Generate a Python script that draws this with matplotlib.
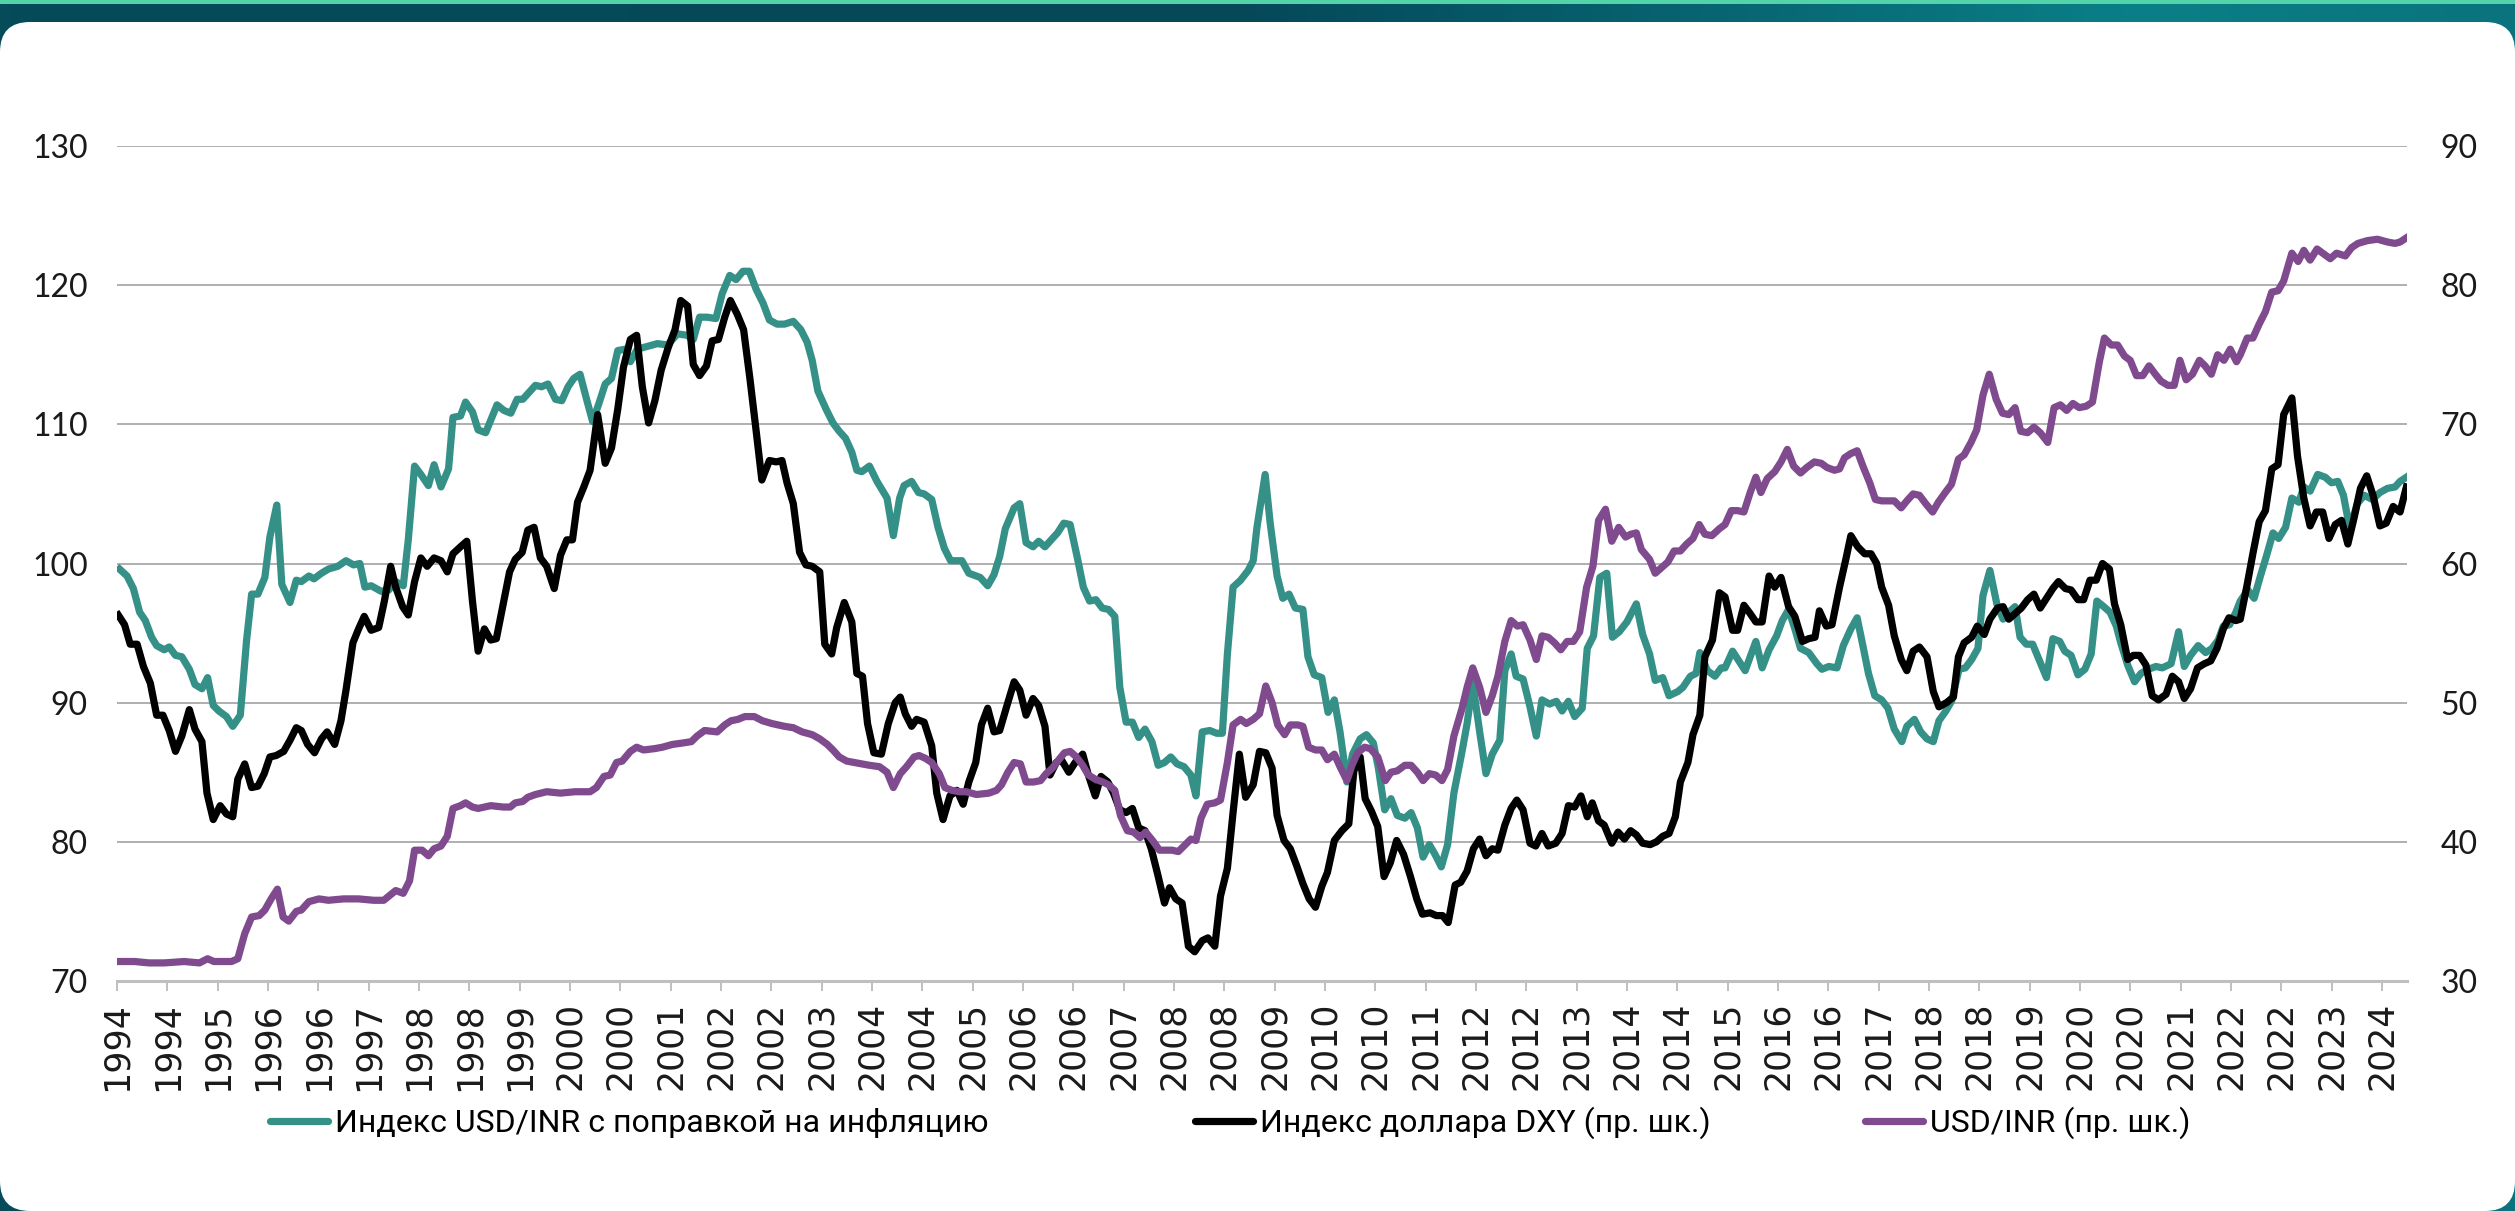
import matplotlib
matplotlib.use("Agg")
import matplotlib.pyplot as plt
import numpy as np
from matplotlib.colors import LinearSegmentedColormap
from matplotlib.lines import Line2D
from matplotlib.patches import FancyBboxPatch

# months counted from Jan 1994
teal_months = [
    0.4, 1.6, 2.6, 3.6, 4.5, 5.5, 6.3, 7.5, 8.3, 9.3, 10.3, 11.5, 12.4, 13.5, 14.4, 15.3, 16.2, 17.4, 18.4, 19.6,
    20.6, 21.4, 22.4, 23.5, 24.3, 25.4, 26.2, 27.5, 28.5, 29.3, 30.5, 31.3, 32.5, 33.6, 35.1, 36.4, 37.6, 38.6,
    39.4, 40.4, 42.0, 43.2, 44.3, 45.5, 46.3, 47.3, 48.3, 49.5, 50.4, 51.5, 52.7, 53.4, 54.6, 55.4, 56.5, 57.4,
    58.6, 60.4, 61.5, 62.6, 63.6, 64.5, 65.3, 66.5, 67.5, 68.5, 69.7, 70.7, 71.7, 72.6, 73.6, 74.7, 75.6, 76.6,
    77.6, 78.6, 79.6, 80.8, 81.6, 82.7, 84.3, 85.9, 87.5, 89.1, 90.6, 91.6, 92.6, 93.8, 95.2, 96.2, 97.4, 98.4,
    99.5, 100.5, 101.6, 102.7, 103.7, 104.9, 106.1, 107.5, 108.7, 109.7, 110.5, 111.4, 112.7, 113.8, 114.8,
    115.8, 116.8, 117.6, 118.4, 119.6, 120.8, 122.4, 123.4, 124.4, 125.1, 126.3, 127.4, 128.3, 129.5, 130.5,
    131.5, 132.5, 134.3, 135.4, 137.2, 138.4, 139.4, 140.3, 141.2, 142.6, 143.5, 144.5, 145.6, 146.5, 147.5,
    148.5, 149.5, 150.5, 151.5, 152.7, 153.6, 154.6, 155.6, 156.6, 157.6, 158.6, 159.4, 160.4, 161.4, 162.4,
    163.4, 164.5, 165.5, 166.5, 167.5, 168.5, 169.6, 170.7, 171.5, 172.5, 173.7, 174.8, 175.7, 176.5, 177.4,
    178.6, 179.8, 180.6, 181.2, 182.5, 183.3, 184.4, 185.3, 186.3, 187.3, 188.5, 189.3, 190.3, 191.5, 192.5,
    193.5, 194.4, 195.5, 196.4, 197.6, 198.6, 199.7, 200.5, 201.5, 202.5, 203.5, 204.7, 205.7, 206.7, 207.6,
    208.6, 209.5, 210.5, 211.5, 212.5, 213.8, 214.6, 215.5, 216.6, 217.6, 218.6, 219.8, 220.6, 221.6, 222.4,
    223.5, 224.6, 225.6, 226.5, 227.7, 228.8, 229.7, 230.7, 231.7, 232.9, 233.7, 234.7, 235.7, 236.8, 237.7,
    238.8, 240.0, 241.5, 242.5, 243.6, 244.5, 245.7, 246.7, 248.1, 248.9, 250.1, 251.0, 251.6, 252.8, 254.0,
    255.0, 255.6, 256.8, 257.8, 258.8, 259.6, 260.5, 261.5, 262.6, 263.8, 264.7, 265.7, 266.7, 267.6, 268.9,
    270.2, 271.0, 272.1, 273.4, 274.4, 275.6, 276.6, 277.6, 278.4, 279.4, 280.5, 281.5, 282.5, 283.7, 284.5,
    285.7, 286.7, 287.7, 288.7, 289.6, 290.7, 291.6, 292.8, 293.8, 294.8, 295.8, 296.6, 297.7, 298.8, 299.8,
    300.7, 301.7, 302.5, 303.5, 304.5, 305.5, 306.7, 307.7, 308.8, 309.6, 310.6, 311.7, 312.8, 313.8, 314.7,
    315.8, 316.8, 317.8, 318.5, 319.6, 320.7, 321.7, 322.9, 324.1, 325.1, 326.5, 327.7, 328.6, 329.6, 330.8,
    332.0, 333.0, 334.0, 334.8, 335.8, 336.8, 337.5, 338.7, 339.7, 340.7, 341.7, 342.7, 343.6, 344.7, 345.7,
    346.8, 347.6, 348.6, 349.8, 351.0, 352.0, 353.0, 353.9, 354.9, 356.1, 357.2, 358.5, 359.7, 360.9, 362.1,
    362.9, 363.9,
]
teal_values = [
    99.6, 99.1, 98.2, 96.5, 95.9, 94.7, 94.1, 93.8, 94.0, 93.4, 93.3, 92.4, 91.3, 91.0, 91.8, 89.8, 89.4, 89.0, 88.3, 89.1,
    94.5, 97.8, 97.8, 99.0, 101.9, 104.2, 98.5, 97.2, 98.8, 98.7, 99.1, 98.9, 99.3, 99.6, 99.8, 100.2, 99.9, 100.0,
    98.3, 98.4, 98.0, 98.1, 98.7, 98.4, 101.7, 107.0, 106.4, 105.6, 107.1, 105.5, 106.8, 110.5, 110.6, 111.6, 110.9, 109.6,
    109.4, 111.4, 111.0, 110.8, 111.8, 111.8, 112.2, 112.8, 112.7, 112.9, 111.8, 111.7, 112.7, 113.3, 113.6, 111.7, 110.2, 111.5,
    112.9, 113.3, 115.3, 115.4, 114.5, 115.4, 115.6, 115.8, 115.7, 116.5, 116.4, 116.1, 117.7, 117.7, 117.6, 119.4, 120.7, 120.4,
    121.0, 121.0, 119.7, 118.7, 117.5, 117.2, 117.2, 117.4, 116.8, 115.9, 114.6, 112.4, 111.1, 110.1, 109.5,
    109.0, 108.0, 106.7, 106.6, 107.0, 105.9, 104.7, 102.0, 104.7, 105.6, 105.9, 105.1, 105.0, 104.6, 102.6,
    101.1, 100.2, 100.2, 99.3, 99.0, 98.4, 99.2, 100.5, 102.5, 104.0, 104.3, 101.5, 101.2, 101.6, 101.2,
    101.7, 102.2, 102.9, 102.8, 100.3, 98.3, 97.3, 97.4, 96.8, 96.7, 96.2, 91.1, 88.6, 88.6, 87.5,
    88.1, 87.2, 85.5, 85.7, 86.1, 85.6, 85.4, 84.8, 83.3, 87.9, 88.0, 87.8, 87.8, 93.5, 98.3,
    98.8, 99.5, 100.2, 102.6, 106.4, 102.9, 99.1, 97.5, 97.8, 96.8, 96.7, 93.3, 92.0, 91.8, 89.3,
    90.2, 87.9, 84.3, 86.3, 87.4, 87.7, 87.1, 85.3, 82.3, 83.1, 81.9, 81.7, 82.1, 81.0, 78.9,
    79.8, 79.1, 78.2, 79.8, 83.5, 86.5, 88.5, 91.4, 87.9, 84.9, 86.3, 87.3, 92.3, 93.5, 91.9,
    91.7, 89.7, 87.6, 90.2, 89.9, 90.1, 89.4, 90.1, 89.0, 89.6, 93.9, 94.8, 99.0, 99.3, 94.7,
    95.1, 95.8, 97.1, 94.9, 93.5, 91.6, 91.8, 90.5, 90.8, 91.1, 91.9, 92.1, 93.6, 92.3, 91.9,
    92.5, 92.5, 93.7, 93.0, 92.3, 93.3, 94.4, 92.5, 93.8, 94.8, 95.9, 96.7, 95.3, 93.9, 93.6,
    92.8, 92.4, 92.6, 92.5, 94.1, 95.3, 96.1, 93.9, 92.1, 90.5, 90.2, 89.6, 88.1, 87.2, 88.3,
    88.8, 87.9, 87.4, 87.2, 88.7, 89.4, 90.1, 92.4, 92.5, 93.1, 93.9, 97.7, 99.5, 97.1, 96.0,
    96.5, 96.9, 94.7, 94.2, 94.2, 93.1, 91.8, 94.6, 94.4, 93.7, 93.4, 92.0, 92.4, 93.5, 97.3,
    96.9, 96.5, 95.5, 94.3, 92.7, 91.5, 92.1, 92.4, 92.6, 92.5, 92.8, 95.1, 92.6, 93.4, 94.1,
    93.6, 93.9, 94.5, 95.5, 95.6, 96.5, 97.3, 98.1, 97.5, 99.1, 100.6, 102.2, 101.8, 102.6, 104.7,
    104.4, 105.5, 105.2, 106.4, 106.2, 105.8, 105.9, 104.9, 102.5, 104.3, 104.9, 104.6, 105.1, 105.4, 105.5,
    105.9, 106.2,
]

dxy_months = [
    0.2, 1.2, 2.1, 3.2, 4.2, 5.3, 6.3, 7.3, 8.3, 9.3, 10.3, 11.5, 12.4, 13.5, 14.3, 15.3, 16.4, 17.4, 18.4, 19.2,
    20.3, 21.4, 22.4, 23.4, 24.3, 25.3, 26.5, 27.5, 28.5, 29.3, 30.3, 31.4, 32.5, 33.4, 34.6, 35.6, 36.4, 37.5,
    38.4, 39.3, 40.4, 41.6, 42.5, 43.5, 44.3, 45.4, 46.3, 47.3, 48.3, 49.3, 50.4, 51.5, 52.5, 53.4, 54.6, 55.6,
    56.5, 57.4, 58.4, 59.4, 60.3, 61.4, 62.4, 63.3, 64.4, 65.3, 66.3, 67.3, 68.3, 69.5, 70.5, 71.5, 72.4, 73.2,
    74.2, 75.2, 76.4, 77.6, 78.6, 79.6, 80.5, 81.6, 82.6, 83.5, 84.5, 85.5, 86.5, 87.6, 88.7, 89.6, 90.7, 91.6,
    92.6, 93.7, 94.6, 95.6, 96.6, 97.5, 98.6, 99.6, 100.6, 101.6, 102.5, 103.7, 104.8, 105.7, 106.5, 107.5,
    108.5, 109.5, 110.5, 111.7, 112.5, 113.6, 114.4, 115.6, 116.8, 117.6, 118.5, 119.3, 120.3, 121.5, 122.6,
    123.7, 124.5, 125.3, 126.3, 127.1, 128.3, 129.5, 130.3, 131.3, 132.4, 133.5, 134.5, 135.4, 136.5, 137.4,
    138.4, 139.4, 140.3, 141.4, 142.6, 143.5, 144.5, 145.6, 146.5, 147.5, 148.3, 149.3, 150.1, 151.3, 152.3,
    153.5, 154.4, 155.5, 156.4, 157.5, 158.4, 159.4, 160.4, 161.4, 162.4, 163.4, 164.4, 165.4, 166.5, 167.3,
    168.3, 169.3, 170.3, 171.3, 172.5, 173.4, 174.5, 175.4, 176.5, 177.4, 178.4, 179.4, 180.6, 181.6, 182.6,
    183.6, 184.4, 185.5, 186.5, 187.5, 188.5, 189.5, 190.5, 191.5, 192.4, 193.5, 194.7, 195.8, 196.6, 197.6,
    198.4, 199.4, 200.4, 201.4, 202.4, 203.4, 204.5, 205.6, 206.6, 207.5, 208.7, 209.7, 210.7, 211.6, 212.7,
    213.6, 214.6, 215.6, 216.6, 217.6, 218.6, 219.5, 220.6, 221.6, 222.5, 223.5, 224.6, 225.5, 226.5, 227.5,
    228.7, 229.7, 230.7, 231.7, 232.7, 233.7, 234.5, 235.5, 236.4, 237.6, 238.6, 239.6, 240.6, 241.5, 242.5,
    243.7, 244.7, 245.7, 246.7, 247.7, 248.5, 249.7, 250.5, 251.6, 252.4, 253.6, 254.7, 255.6, 256.8, 257.6,
    258.6, 259.6, 260.5, 261.5, 262.6, 263.5, 264.5, 265.7, 266.7, 267.9, 268.9, 269.9, 270.6, 271.7, 272.6,
    273.8, 274.8, 275.6, 276.7, 277.8, 278.8, 279.7, 280.5, 281.6, 282.5, 283.6, 284.5, 285.5, 286.5, 287.7,
    288.7, 289.6, 290.8, 291.9, 292.7, 293.6, 294.8, 295.7, 296.8, 297.7, 298.9, 299.8, 300.7, 301.7, 302.7,
    303.7, 304.7, 305.7, 306.7, 307.7, 308.6, 309.7, 310.6, 311.7, 312.6, 313.6, 314.6, 315.6, 316.7, 317.5,
    318.5, 319.6, 320.5, 321.5, 322.5, 323.5, 324.5, 325.7, 326.7, 327.7, 328.6, 329.6, 330.7, 331.8, 332.8,
    333.8, 334.8, 335.7, 336.8, 337.5, 338.6, 339.5, 340.5, 341.5, 342.5, 343.5, 344.4, 345.7, 346.6, 347.6,
    348.6, 349.6, 350.6, 351.6, 352.6, 353.6, 354.6, 355.6, 356.6, 357.6, 358.6, 359.7, 360.7, 361.8, 362.9,
    363.9,
]
dxy_values = [
    96.3, 95.6, 94.2, 94.2, 92.6, 91.4, 89.1, 89.1, 88.0, 86.5, 87.6, 89.5, 88.1, 87.2, 83.5, 81.6, 82.6, 82.0, 81.8, 84.5,
    85.6, 83.9, 84.0, 84.9, 86.1, 86.2, 86.5, 87.3, 88.2, 88.0, 87.0, 86.4, 87.4, 87.9, 87.0, 88.7, 90.9, 94.3,
    95.3, 96.2, 95.2, 95.4, 97.3, 99.8, 98.3, 96.9, 96.3, 98.7, 100.4, 99.8, 100.4, 100.2, 99.4, 100.7, 101.2, 101.6,
    97.3, 93.7, 95.3, 94.5, 94.6, 97.1, 99.4, 100.3, 100.8, 102.4, 102.6, 100.4, 99.8, 98.2, 100.6, 101.7, 101.7, 104.4,
    105.5, 106.7, 110.7, 107.2, 108.3, 111.1, 114.1, 116.1, 116.4, 112.7, 110.1, 111.7, 113.9, 115.5, 116.8, 118.9, 118.5, 114.3,
    113.5, 114.2, 116.0, 116.1, 117.7, 118.9, 117.9, 116.8, 113.3, 109.5, 106.0, 107.4, 107.3, 107.4, 105.8, 104.3,
    100.8, 99.9, 99.8, 99.4, 94.2, 93.5, 95.4, 97.2, 95.8, 92.1, 91.9, 88.5, 86.4, 86.3, 88.5,
    90.0, 90.4, 89.2, 88.3, 88.8, 88.6, 86.9, 83.5, 81.6, 83.3, 83.7, 82.7, 84.3, 85.7, 88.4,
    89.6, 87.9, 88.0, 89.7, 91.5, 90.9, 89.1, 90.3, 89.8, 88.3, 84.8, 85.7, 85.9, 85.0, 85.7,
    86.3, 84.8, 83.3, 84.7, 84.3, 83.5, 82.3, 82.1, 82.4, 81.0, 80.8, 79.5, 77.7, 75.6, 76.7,
    75.9, 75.6, 72.5, 72.1, 72.9, 73.1, 72.5, 76.1, 78.1, 82.1, 86.3, 83.2, 84.1, 86.5, 86.4,
    85.3, 81.9, 80.1, 79.5, 78.3, 77.0, 75.9, 75.3, 76.8, 77.8, 80.1, 80.8, 81.3, 85.1, 86.1,
    83.1, 82.2, 81.1, 77.5, 78.5, 80.1, 79.1, 77.5, 75.9, 74.8, 74.9, 74.7, 74.7, 74.2, 76.9,
    77.1, 77.9, 79.5, 80.2, 79.0, 79.5, 79.4, 81.2, 82.4, 83.0, 82.3, 79.9, 79.7, 80.6, 79.7,
    79.9, 80.6, 82.6, 82.5, 83.3, 81.8, 82.8, 81.5, 81.2, 79.9, 80.7, 80.2, 80.8, 80.5, 79.9,
    79.8, 80.0, 80.4, 80.6, 81.8, 84.3, 85.7, 87.7, 89.1, 93.3, 94.5, 97.9, 97.6, 95.2, 95.2,
    97.0, 96.4, 95.8, 95.8, 99.1, 98.3, 99.0, 96.9, 96.2, 94.4, 94.6, 94.7, 96.6, 95.5, 95.6,
    98.3, 100.3, 102.0, 101.2, 100.7, 100.7, 100.0, 98.3, 97.0, 94.8, 93.1, 92.3, 93.7, 94.0, 93.3,
    90.8, 89.7, 90.0, 90.4, 93.3, 94.3, 94.7, 95.5, 94.9, 96.0, 96.8, 96.9, 96.0, 96.4, 96.8,
    97.4, 97.8, 96.8, 97.5, 98.2, 98.7, 98.2, 98.1, 97.4, 97.4, 98.8, 98.8, 100.0, 99.6, 97.1,
    95.6, 93.1, 93.4, 93.4, 92.7, 90.5, 90.2, 90.6, 91.9, 91.5, 90.3, 91.0, 92.5, 92.8, 93.0,
    93.9, 95.3, 96.1, 95.9, 96.0, 98.5, 100.7, 103.0, 103.8, 106.8, 107.1, 110.7, 111.9, 107.7, 104.7,
    102.7, 103.7, 103.7, 101.8, 102.8, 103.1, 101.4, 103.3, 105.4, 106.3, 104.9, 102.7, 102.9, 104.1, 103.7,
    105.5,
]

inr_months = [
    0.2, 2.8, 5.1, 7.5, 10.7, 13.1, 14.4, 15.4, 18.2, 19.2, 20.3, 21.4, 22.6, 23.5, 24.5, 25.5, 26.4, 27.3, 28.5,
    29.3, 30.5, 32.1, 33.6, 36.0, 38.4, 40.8, 42.4, 43.5, 44.3, 45.5, 46.5, 47.3, 48.5, 49.5, 50.4, 51.5, 52.5,
    53.4, 54.6, 55.4, 56.5, 57.4, 59.4, 61.4, 62.5, 63.3, 64.5, 65.3, 66.5, 68.3, 70.5, 72.8, 75.2, 76.2, 77.4,
    78.4, 79.4, 80.3, 81.6, 82.6, 83.7, 85.5, 86.7, 88.3, 89.9, 91.3, 92.2, 93.4, 95.4, 96.6, 97.6, 98.7, 99.8,
    101.3, 102.6, 104.1, 106.1, 107.5, 108.9, 110.5, 111.7, 112.9, 113.8, 114.8, 116.0, 117.2, 118.4, 119.6,
    121.2, 122.4, 123.4, 124.5, 125.5, 126.7, 127.5, 128.5, 129.5, 130.7, 131.6, 132.7, 133.9, 135.0, 136.6,
    138.6, 139.8, 140.6, 141.6, 142.6, 143.6, 144.5, 145.7, 146.8, 147.7, 148.7, 149.7, 150.6, 151.5, 152.5,
    153.5, 154.4, 155.5, 156.7, 157.6, 158.6, 159.5, 160.6, 161.6, 162.6, 163.5, 164.6, 165.7, 166.7, 167.7,
    168.7, 169.6, 170.7, 171.5, 172.3, 173.3, 174.5, 175.4, 176.5, 177.4, 178.6, 179.5, 180.6, 181.6, 182.6,
    183.6, 184.5, 185.6, 186.5, 187.7, 188.5, 189.4, 190.5, 191.5, 192.4, 193.5, 194.4, 195.5, 196.3, 197.2,
    198.3, 199.2, 200.4, 201.6, 202.5, 203.5, 204.7, 205.7, 206.7, 207.6, 208.6, 209.6, 210.6, 211.5, 212.5,
    213.8, 214.6, 215.5, 216.6, 217.6, 218.6, 219.5, 220.6, 221.6, 222.6, 223.5, 224.6, 225.6, 226.5, 227.5,
    228.5, 229.5, 230.5, 231.5, 232.5, 233.6, 234.6, 235.5, 236.6, 237.6, 238.7, 239.8, 240.6, 241.5, 242.3,
    243.6, 244.5, 245.5, 246.5, 247.5, 248.5, 249.5, 250.5, 251.5, 252.4, 253.5, 254.7, 255.6, 256.6, 257.6,
    258.6, 259.6, 260.5, 261.3, 262.3, 263.5, 264.5, 265.5, 266.5, 267.6, 268.6, 269.8, 270.9, 271.8, 273.0,
    273.8, 274.6, 275.6, 276.6, 277.6, 278.6, 279.5, 280.5, 281.6, 282.5, 283.6, 284.5, 285.5, 286.5, 287.5,
    288.6, 289.5, 290.6, 291.6, 292.7, 293.6, 294.7, 295.6, 296.6, 297.6, 298.7, 299.7, 300.7, 301.7, 302.6,
    303.7, 304.7, 305.7, 306.9, 307.9, 308.9, 309.9, 310.9, 311.9, 313.0, 314.0, 315.1, 315.9, 317.0, 318.0,
    319.1, 320.0, 321.0, 322.0, 323.0, 324.0, 324.9, 326.0, 327.0, 327.9, 328.9, 329.9, 331.0, 331.9, 332.9,
    333.9, 334.9, 335.9, 336.9, 337.5, 338.6, 339.5, 340.5, 341.5, 342.5, 343.5, 344.4, 345.7, 346.7, 347.6,
    348.6, 349.7, 350.6, 351.8, 352.8, 354.2, 355.2, 356.2, 357.7, 359.3, 360.9, 362.1, 362.9, 363.9,
]
inr_values = [
    31.4, 31.4, 31.3, 31.3, 31.4, 31.3, 31.6, 31.4, 31.4, 31.6, 33.4, 34.6, 34.7, 35.1, 35.9, 36.6, 34.6, 34.3, 35.0,
    35.1, 35.7, 35.9, 35.8, 35.9, 35.9, 35.8, 35.8, 36.2, 36.5, 36.3, 37.2, 39.4, 39.4, 39.0, 39.5, 39.7, 40.4,
    42.4, 42.6, 42.8, 42.5, 42.4, 42.6, 42.5, 42.5, 42.8, 42.9, 43.2, 43.4, 43.6, 43.5, 43.6, 43.6, 43.9, 44.7,
    44.8, 45.7, 45.8, 46.5, 46.8, 46.6, 46.7, 46.8, 47.0, 47.1, 47.2, 47.6, 48.0, 47.9, 48.4, 48.7, 48.8, 49.0,
    49.0, 48.7, 48.5, 48.3, 48.2, 47.9, 47.7, 47.4, 47.0, 46.6, 46.1, 45.8, 45.7, 45.6, 45.5,
    45.4, 45.0, 43.9, 44.9, 45.4, 46.1, 46.2, 46.0, 45.7, 44.9, 43.9, 43.7, 43.6, 43.6, 43.4,
    43.5, 43.7, 44.1, 45.0, 45.7, 45.6, 44.3, 44.3, 44.4, 44.9, 45.3, 45.9, 46.4, 46.5, 46.1,
    45.5, 44.8, 44.5, 44.3, 44.1, 43.7, 41.9, 40.8, 40.7, 40.3, 40.7, 40.1, 39.4, 39.4, 39.4,
    39.3, 39.7, 40.2, 40.1, 41.7, 42.7, 42.8, 43.0, 45.7, 48.4, 48.8, 48.5, 48.8, 49.2, 51.2,
    50.0, 48.4, 47.7, 48.4, 48.4, 48.3, 46.8, 46.6, 46.6, 45.9, 46.3, 45.4, 44.4, 45.5, 46.4,
    46.8, 46.7, 46.1, 44.4, 45.0, 45.1, 45.5, 45.5, 45.0, 44.4, 44.9, 44.8, 44.4, 45.2, 47.6,
    49.6, 51.1, 52.5, 51.1, 49.3, 50.5, 51.9, 54.4, 55.9, 55.5, 55.6, 54.5, 53.1, 54.8, 54.7,
    54.3, 53.8, 54.4, 54.4, 55.1, 58.3, 59.8, 63.1, 63.9, 61.6, 62.6, 61.9, 62.1, 62.2, 61.0,
    60.3, 59.3, 59.7, 60.1, 60.9, 60.9, 61.4, 61.8, 62.8, 62.1, 62.0, 62.5, 62.8, 63.8, 63.8,
    63.7, 65.1, 66.2, 65.1, 66.1, 66.6, 67.3, 68.2, 67.0, 66.5, 66.9, 67.3, 67.2, 66.9, 66.7,
    66.8, 67.6, 67.9, 68.1, 66.9, 65.8, 64.6, 64.5, 64.5, 64.5, 64.0, 64.5, 65.0, 64.9, 64.3,
    63.7, 64.4, 65.1, 65.7, 67.5, 67.8, 68.7, 69.6, 72.1, 73.6, 71.8, 70.8, 70.7, 71.2, 69.5,
    69.4, 69.8, 69.4, 68.7, 71.2, 71.4, 71.0, 71.5, 71.2, 71.3, 71.6, 74.5, 76.2, 75.7, 75.7,
    74.9, 74.6, 73.5, 73.5, 74.2, 73.6, 73.1, 72.8, 72.8, 74.6, 73.2, 73.6, 74.6, 74.2, 73.6,
    75.0, 74.6, 75.4, 74.5, 75.0, 76.2, 76.2, 77.2, 78.1, 79.5, 79.6, 80.3, 82.3, 81.7, 82.5,
    81.8, 82.6, 82.3, 81.9, 82.3, 82.1, 82.7, 83.0, 83.2, 83.3, 83.1, 83.0, 83.1, 83.4,
]

tick_months = list(range(0, 361, 8))
tick_labels = [
    "1994", "1994", "1995", "1996", "1996", "1997", "1998", "1998", "1999", "2000", "2000", "2001",
    "2002", "2002", "2003", "2004", "2004", "2005", "2006", "2006", "2007", "2008", "2008", "2009",
    "2010", "2010", "2011", "2012", "2012", "2013", "2014", "2014", "2015", "2016", "2016", "2017",
    "2018", "2018", "2019", "2020", "2020", "2021", "2022", "2022", "2023", "2024",
]

series_names = [
    "Индекс USD/INR с поправкой на инфляцию",
    "Индекс доллара DXY (пр. шк.)",
    "USD/INR (пр. шк.)",
]

TEAL = "#359187"
BLACK = "#000000"
PURPLE = "#7f4a8e"
GRID = "#a9a9a9"
AXIS = "#bfbfbf"
LW = 5.2
W, H = 2515, 1211

fig = plt.figure(figsize=(W / 100, H / 100), dpi=100)

# backdrop: dark teal band with a white rounded card on top
bg = fig.add_axes([0, 0, 1, 1], zorder=-10)
bg.set_xlim(0, W)
bg.set_ylim(0, H)
bg.axis("off")
band = LinearSegmentedColormap.from_list(
    "band", [(0.0, "#064b59"), (0.5, "#05495a"), (0.85, "#0a7f87"), (1.0, "#0a737d")]
)
bg.imshow(np.linspace(0, 1, 512)[None, :], cmap=band, aspect="auto", extent=[0, W, 0, H])
bg.axhspan(H - 4, H, color="#52d3a8", lw=0)
bg.add_patch(
    FancyBboxPatch((0, 0), W, H - 22, boxstyle="round,pad=0,rounding_size=30",
                   fc="white", ec="none")
)

ax = fig.add_axes([117 / W, 1 - 981 / H, 2290 / W, 835 / H])
ax.set_facecolor("none")
ax2 = ax.twinx()

ax.plot(teal_months, teal_values, color=TEAL, lw=LW, solid_joinstyle="round", zorder=3)
ax.plot(dxy_months, dxy_values, color=BLACK, lw=LW, solid_joinstyle="round", zorder=4)
ax2.plot(inr_months, inr_values, color=PURPLE, lw=LW, solid_joinstyle="round", zorder=5)

ax.set_xlim(0, 364)
ax.set_ylim(70, 130)
ax2.set_ylim(30, 90)
ax.set_yticks(range(70, 131, 10))
ax2.set_yticks(range(30, 91, 10))
ax.yaxis.grid(True, color=GRID, lw=1.3)
ax.set_axisbelow(True)

ax.set_xticks(tick_months)
ax.set_xticklabels(tick_labels, rotation=90, fontsize=25, color="#1a1a1a")
ax.tick_params(axis="x", length=7, width=1.4, color=AXIS, pad=8)
ax.tick_params(axis="y", length=0, pad=21, labelsize=23, labelcolor="#1a1a1a")
ax2.tick_params(axis="y", length=0, pad=24, labelsize=23, labelcolor="#1a1a1a")
for lbl in ax.get_yticklabels() + ax2.get_yticklabels():
    lbl.set_fontfamily(["Lato", "DejaVu Sans"])

for a in (ax, ax2):
    for side in ("left", "right", "top"):
        a.spines[side].set_visible(False)
ax2.spines["bottom"].set_visible(False)
ax.spines["bottom"].set_color(AXIS)
ax.spines["bottom"].set_linewidth(2.2)
ax.spines["bottom"].set_zorder(1)

legend_font = {"family": ["Roboto", "DejaVu Sans"], "size": 23}
legend_x = [270 / W, 1195 / W, 1865 / W]
for name, color, x in zip(series_names, [TEAL, BLACK, PURPLE], legend_x):
    fig.legend(
        [Line2D([], [], color=color, lw=LW, solid_capstyle="round")],
        [name],
        loc="center left",
        bbox_to_anchor=(x, 1 - 1123 / H),
        frameon=False,
        prop=legend_font,
        handlelength=1.8,
        handletextpad=0.25,
        borderpad=0,
        borderaxespad=0,
    )

fig.savefig("out.png", dpi=100)
